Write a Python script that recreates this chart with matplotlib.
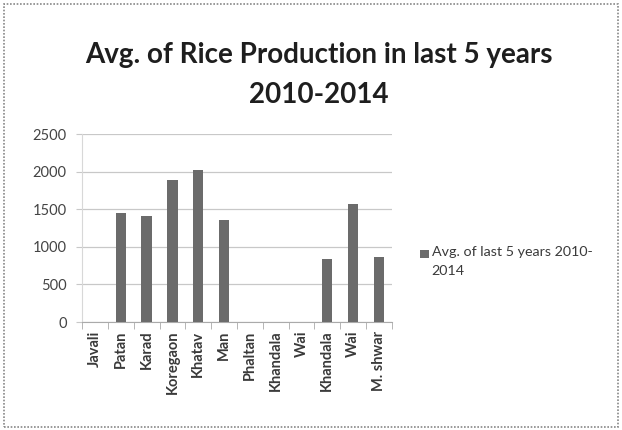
import matplotlib
matplotlib.use("Agg")
import matplotlib.pyplot as plt
import numpy as np
from matplotlib.patches import Rectangle

talukas = ["Javali", "Patan", "Karad", "Koregaon", "Khatav", "Man",
           "Phaltan", "Khandala", "Wai", "Khandala", "Wai", "M. shwar"]
avg_5yr = [0, 1445, 1410, 1888, 2021, 1356, 0, 0, 0, 833, 1569, 860]
y_ticks = [0, 500, 1000, 1500, 2000, 2500]
series_name = "Avg. of last 5 years 2010-\n2014"

plt.rcParams["font.family"] = ["Lato", "DejaVu Sans"]

fig = plt.figure(figsize=(6.22, 4.30), dpi=100)
ax = fig.add_axes([0.132, 0.251, 0.498, 0.437])

x = np.arange(len(talukas))
ax.bar(x, avg_5yr, width=0.4, color="#6b6b6b", zorder=3)

ax.set_xlim(-0.5, len(talukas) - 0.5)
ax.set_ylim(0, 2500)
ax.set_yticks(y_ticks)
ax.set_yticklabels([str(v) for v in y_ticks], fontsize=10.5, color="#444444")
ax.tick_params(axis="y", length=4, color="#c8c8c8", pad=7)
ax.set_xticks(x)
ax.set_xticklabels(talukas, rotation=90, fontsize=10.5, fontweight="bold",
                   color="#3a3a3a")
ax.tick_params(axis="x", length=0, pad=6)
ax.set_xticks(np.arange(-0.5, len(talukas)), minor=True)
ax.tick_params(axis="x", which="minor", length=5, color="#aaaaaa", direction="out")
ax.grid(axis="y", color="#c8c8c8", linewidth=0.9, zorder=0)

for side in ["top", "right"]:
    ax.spines[side].set_visible(False)
ax.spines["left"].set_color("#d8d8d8")
ax.spines["bottom"].set_color("#aaaaaa")

fig.text(0.513, 0.872, "Avg. of Rice Production in last 5 years",
         ha="center", va="center", fontsize=20, fontweight="bold", color="#1e1e1e")
fig.text(0.513, 0.78, "2010-2014",
         ha="center", va="center", fontsize=20, fontweight="bold", color="#1e1e1e")

# legend entry
fig.patches.append(Rectangle((0.676, 0.40), 0.013, 0.019, transform=fig.transFigure,
                             facecolor="#6b6b6b", edgecolor="none"))
fig.text(0.694, 0.428, series_name, ha="left", va="top", fontsize=10.3,
         color="#3a3a3a", linespacing=1.7)

# dotted outer frame
fig.patches.append(Rectangle((0.006, 0.006), 0.988, 0.985, transform=fig.transFigure,
                             fill=False, edgecolor="#888888", linestyle=(0, (1, 1)),
                             linewidth=1.2))

fig.savefig("out.png", dpi=100)
